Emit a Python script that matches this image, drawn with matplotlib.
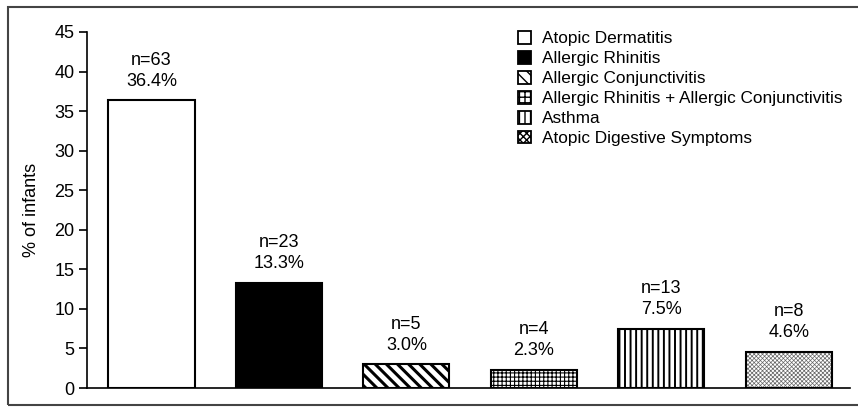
import matplotlib
matplotlib.use('Agg')
import matplotlib.pyplot as plt
from matplotlib.patches import Patch, Rectangle

# donnees
categories = ["Atopic Dermatitis", "Allergic Rhinitis", "Allergic Conjunctivitis",
              "Allergic Rhinitis + Allergic Conjunctivitis", "Asthma",
              "Atopic Digestive Symptoms"]
percent = [36.4, 13.3, 3.0, 2.3, 7.5, 4.6]
counts = [63, 23, 5, 4, 13, 8]
yticks = [0, 5, 10, 15, 20, 25, 30, 35, 40, 45]

faces = ['white', 'black', 'white', 'white', 'white', 'white']
hatches = [None, None, '\\\\\\', '++++', '|||', 'xxxxxxxx']
legend_hatches = [None, None, '\\\\\\', '+++', '|||', 'xxxxx']
hatch_lw = [1.0, 1.0, 2.2, 0.8, 1.4, 0.5]
hatch_col = ['black', 'black', 'black', 'black', 'black', '#666666']

plt.rcParams['font.family'] = ['Liberation Sans', 'DejaVu Sans']
plt.rcParams['hatch.linewidth'] = 1.0

fig = plt.figure(figsize=(8.58, 4.08), dpi=100)
ax = fig.add_axes([0.1014, 0.049, 0.8893, 0.8726])

x = list(range(len(percent)))
# remplissage + hachures
fills = ax.bar(x, percent, width=0.675, color=faces, edgecolor=hatch_col, linewidth=0)
for b, h, lw in zip(fills, hatches, hatch_lw):
    if h:
        b.set_hatch(h)
        if hasattr(b, 'set_hatch_linewidth'):
            b.set_hatch_linewidth(lw)
# contours
ax.bar(x, percent, width=0.675, fill=False, edgecolor='black', linewidth=1.5)

for xi, p, n in zip(x, percent, counts):
    ax.annotate(f"n={n}\n{p:.1f}%", (xi, p), xytext=(0, 7.5),
                textcoords='offset points', ha='center', va='bottom',
                fontsize=13, linespacing=1.3)

ax.set_xlim(-0.506, 5.48)
ax.set_ylim(0, 45)
ax.set_yticks(yticks)
ax.set_xticks([])
ax.tick_params(axis='y', direction='out', length=6, width=1.2, labelsize=13, pad=3)
ax.spines['top'].set_visible(False)
ax.spines['right'].set_visible(False)
ax.spines['left'].set_linewidth(1.2)
ax.spines['bottom'].set_linewidth(1.2)
ax.set_ylabel("% of infants", fontsize=13, labelpad=10)

handles = [Patch(facecolor=f, edgecolor='black', hatch=h, linewidth=1.3)
           for f, h in zip(faces, legend_hatches)]
fig.legend(handles, categories, loc='upper left', bbox_to_anchor=(0.594, 0.945),
           frameon=False, fontsize=12.4, handlelength=0.75, handleheight=0.75,
           handletextpad=0.6, labelspacing=0.27, borderpad=0)

fig.patches.append(Rectangle((0.009, 0.008), 1.2, 0.975, transform=fig.transFigure,
                             fill=False, edgecolor='#444444', linewidth=1.5))

fig.savefig('out.png', dpi=100)
